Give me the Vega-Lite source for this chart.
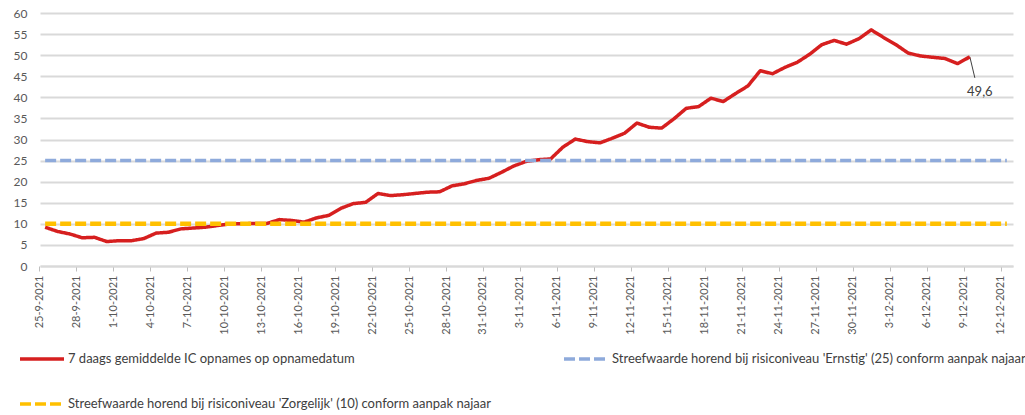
{
  "$schema": "https://vega.github.io/schema/vega-lite/v6.json",
  "width": 973,
  "height": 253,
  "autosize": "none",
  "padding": {"left": 40, "top": 13, "right": 12, "bottom": 149},
  "background": "white",
  "config": {
    "font": "Lato",
    "view": {"stroke": null},
    "axis": {"title": null, "labelColor": "#595959", "labelFont": "Lato"}
  },
  "encoding": {
    "x": {
      "field": "d",
      "type": "temporal",
      "scale": {"domain": [{"year": 2021, "month": 9, "date": 24, "hours": 14}, {"year": 2021, "month": 12, "date": 12, "hours": 12}]},
      "axis": {
        "format": "%-d-%-m-%Y",
        "labelAngle": -90,
        "labelFontSize": 11,
        "labelPadding": 4,
        "grid": false,
        "domainColor": "#d9d9d9",
        "domainWidth": 2,
        "tickColor": "#bfbfbf",
        "tickSize": 5,
        "tickOffset": -6,
        "labelFlush": false,
        "labelOverlap": false,
        "values": [
          {"year": 2021, "month": 9, "date": 25}, {"year": 2021, "month": 9, "date": 28},
          {"year": 2021, "month": 10, "date": 1}, {"year": 2021, "month": 10, "date": 4},
          {"year": 2021, "month": 10, "date": 7}, {"year": 2021, "month": 10, "date": 10},
          {"year": 2021, "month": 10, "date": 13}, {"year": 2021, "month": 10, "date": 16},
          {"year": 2021, "month": 10, "date": 19}, {"year": 2021, "month": 10, "date": 22},
          {"year": 2021, "month": 10, "date": 25}, {"year": 2021, "month": 10, "date": 28},
          {"year": 2021, "month": 10, "date": 31}, {"year": 2021, "month": 11, "date": 3},
          {"year": 2021, "month": 11, "date": 6}, {"year": 2021, "month": 11, "date": 9},
          {"year": 2021, "month": 11, "date": 12}, {"year": 2021, "month": 11, "date": 15},
          {"year": 2021, "month": 11, "date": 18}, {"year": 2021, "month": 11, "date": 21},
          {"year": 2021, "month": 11, "date": 24}, {"year": 2021, "month": 11, "date": 27},
          {"year": 2021, "month": 11, "date": 30}, {"year": 2021, "month": 12, "date": 3},
          {"year": 2021, "month": 12, "date": 6}, {"year": 2021, "month": 12, "date": 9},
          {"year": 2021, "month": 12, "date": 12}
        ]
      }
    },
    "y": {
      "field": "v",
      "type": "quantitative",
      "scale": {"domain": [0, 60], "nice": false},
      "axis": {
        "values": [0, 5, 10, 15, 20, 25, 30, 35, 40, 45, 50, 55, 60],
        "domain": false,
        "ticks": false,
        "gridColor": "#d9d9d9",
        "gridWidth": 2,
        "labelFontSize": 12,
        "labelPadding": 13
      }
    }
  },
  "layer": [
    {
      "data": {"values": [{"d": "2021-12-09", "v": 49.6, "label": "49,6"}], "format": {"parse": {"d": "date:'%Y-%m-%d'"}}},
      "mark": {"type": "text", "fontSize": 13, "color": "#404040", "dx": 10, "dy": 35},
      "encoding": {
        "text": {"field": "label", "type": "nominal"}
      }
    },
    {
      "data": {"values": [{"d": "2021-12-09", "v": 49.6}], "format": {"parse": {"d": "date:'%Y-%m-%d'"}}},
      "mark": {"type": "rule", "color": "#404040", "strokeWidth": 1, "x2Offset": 5, "y2Offset": 21},
      "encoding": {
        "x2": {"field": "d"},
        "y2": {"field": "v"}
      }
    },
    {
      "data": {
        "values": [
          {"d": "2021-09-25", "v": 9.2, "s": "7 daags gemiddelde IC opnames op opnamedatum"},
          {"d": "2021-09-26", "v": 8.2, "s": "7 daags gemiddelde IC opnames op opnamedatum"},
          {"d": "2021-09-27", "v": 7.6, "s": "7 daags gemiddelde IC opnames op opnamedatum"},
          {"d": "2021-09-28", "v": 6.7, "s": "7 daags gemiddelde IC opnames op opnamedatum"},
          {"d": "2021-09-29", "v": 6.8, "s": "7 daags gemiddelde IC opnames op opnamedatum"},
          {"d": "2021-09-30", "v": 5.8, "s": "7 daags gemiddelde IC opnames op opnamedatum"},
          {"d": "2021-10-01", "v": 6.0, "s": "7 daags gemiddelde IC opnames op opnamedatum"},
          {"d": "2021-10-02", "v": 6.0, "s": "7 daags gemiddelde IC opnames op opnamedatum"},
          {"d": "2021-10-03", "v": 6.5, "s": "7 daags gemiddelde IC opnames op opnamedatum"},
          {"d": "2021-10-04", "v": 7.8, "s": "7 daags gemiddelde IC opnames op opnamedatum"},
          {"d": "2021-10-05", "v": 8.0, "s": "7 daags gemiddelde IC opnames op opnamedatum"},
          {"d": "2021-10-06", "v": 8.8, "s": "7 daags gemiddelde IC opnames op opnamedatum"},
          {"d": "2021-10-07", "v": 9.0, "s": "7 daags gemiddelde IC opnames op opnamedatum"},
          {"d": "2021-10-08", "v": 9.2, "s": "7 daags gemiddelde IC opnames op opnamedatum"},
          {"d": "2021-10-09", "v": 9.6, "s": "7 daags gemiddelde IC opnames op opnamedatum"},
          {"d": "2021-10-10", "v": 10.0, "s": "7 daags gemiddelde IC opnames op opnamedatum"},
          {"d": "2021-10-11", "v": 10.0, "s": "7 daags gemiddelde IC opnames op opnamedatum"},
          {"d": "2021-10-12", "v": 10.1, "s": "7 daags gemiddelde IC opnames op opnamedatum"},
          {"d": "2021-10-13", "v": 10.1, "s": "7 daags gemiddelde IC opnames op opnamedatum"},
          {"d": "2021-10-14", "v": 11.0, "s": "7 daags gemiddelde IC opnames op opnamedatum"},
          {"d": "2021-10-15", "v": 10.8, "s": "7 daags gemiddelde IC opnames op opnamedatum"},
          {"d": "2021-10-16", "v": 10.4, "s": "7 daags gemiddelde IC opnames op opnamedatum"},
          {"d": "2021-10-17", "v": 11.4, "s": "7 daags gemiddelde IC opnames op opnamedatum"},
          {"d": "2021-10-18", "v": 12.0, "s": "7 daags gemiddelde IC opnames op opnamedatum"},
          {"d": "2021-10-19", "v": 13.7, "s": "7 daags gemiddelde IC opnames op opnamedatum"},
          {"d": "2021-10-20", "v": 14.8, "s": "7 daags gemiddelde IC opnames op opnamedatum"},
          {"d": "2021-10-21", "v": 15.1, "s": "7 daags gemiddelde IC opnames op opnamedatum"},
          {"d": "2021-10-22", "v": 17.2, "s": "7 daags gemiddelde IC opnames op opnamedatum"},
          {"d": "2021-10-23", "v": 16.7, "s": "7 daags gemiddelde IC opnames op opnamedatum"},
          {"d": "2021-10-24", "v": 16.9, "s": "7 daags gemiddelde IC opnames op opnamedatum"},
          {"d": "2021-10-25", "v": 17.2, "s": "7 daags gemiddelde IC opnames op opnamedatum"},
          {"d": "2021-10-26", "v": 17.5, "s": "7 daags gemiddelde IC opnames op opnamedatum"},
          {"d": "2021-10-27", "v": 17.6, "s": "7 daags gemiddelde IC opnames op opnamedatum"},
          {"d": "2021-10-28", "v": 19.0, "s": "7 daags gemiddelde IC opnames op opnamedatum"},
          {"d": "2021-10-29", "v": 19.5, "s": "7 daags gemiddelde IC opnames op opnamedatum"},
          {"d": "2021-10-30", "v": 20.3, "s": "7 daags gemiddelde IC opnames op opnamedatum"},
          {"d": "2021-10-31", "v": 20.8, "s": "7 daags gemiddelde IC opnames op opnamedatum"},
          {"d": "2021-11-01", "v": 22.2, "s": "7 daags gemiddelde IC opnames op opnamedatum"},
          {"d": "2021-11-02", "v": 23.7, "s": "7 daags gemiddelde IC opnames op opnamedatum"},
          {"d": "2021-11-03", "v": 24.8, "s": "7 daags gemiddelde IC opnames op opnamedatum"},
          {"d": "2021-11-04", "v": 25.2, "s": "7 daags gemiddelde IC opnames op opnamedatum"},
          {"d": "2021-11-05", "v": 25.4, "s": "7 daags gemiddelde IC opnames op opnamedatum"},
          {"d": "2021-11-06", "v": 28.2, "s": "7 daags gemiddelde IC opnames op opnamedatum"},
          {"d": "2021-11-07", "v": 30.1, "s": "7 daags gemiddelde IC opnames op opnamedatum"},
          {"d": "2021-11-08", "v": 29.5, "s": "7 daags gemiddelde IC opnames op opnamedatum"},
          {"d": "2021-11-09", "v": 29.2, "s": "7 daags gemiddelde IC opnames op opnamedatum"},
          {"d": "2021-11-10", "v": 30.3, "s": "7 daags gemiddelde IC opnames op opnamedatum"},
          {"d": "2021-11-11", "v": 31.5, "s": "7 daags gemiddelde IC opnames op opnamedatum"},
          {"d": "2021-11-12", "v": 33.9, "s": "7 daags gemiddelde IC opnames op opnamedatum"},
          {"d": "2021-11-13", "v": 32.9, "s": "7 daags gemiddelde IC opnames op opnamedatum"},
          {"d": "2021-11-14", "v": 32.7, "s": "7 daags gemiddelde IC opnames op opnamedatum"},
          {"d": "2021-11-15", "v": 34.9, "s": "7 daags gemiddelde IC opnames op opnamedatum"},
          {"d": "2021-11-16", "v": 37.4, "s": "7 daags gemiddelde IC opnames op opnamedatum"},
          {"d": "2021-11-17", "v": 37.8, "s": "7 daags gemiddelde IC opnames op opnamedatum"},
          {"d": "2021-11-18", "v": 39.8, "s": "7 daags gemiddelde IC opnames op opnamedatum"},
          {"d": "2021-11-19", "v": 39.0, "s": "7 daags gemiddelde IC opnames op opnamedatum"},
          {"d": "2021-11-20", "v": 40.9, "s": "7 daags gemiddelde IC opnames op opnamedatum"},
          {"d": "2021-11-21", "v": 42.7, "s": "7 daags gemiddelde IC opnames op opnamedatum"},
          {"d": "2021-11-22", "v": 46.3, "s": "7 daags gemiddelde IC opnames op opnamedatum"},
          {"d": "2021-11-23", "v": 45.6, "s": "7 daags gemiddelde IC opnames op opnamedatum"},
          {"d": "2021-11-24", "v": 47.1, "s": "7 daags gemiddelde IC opnames op opnamedatum"},
          {"d": "2021-11-25", "v": 48.3, "s": "7 daags gemiddelde IC opnames op opnamedatum"},
          {"d": "2021-11-26", "v": 50.2, "s": "7 daags gemiddelde IC opnames op opnamedatum"},
          {"d": "2021-11-27", "v": 52.5, "s": "7 daags gemiddelde IC opnames op opnamedatum"},
          {"d": "2021-11-28", "v": 53.5, "s": "7 daags gemiddelde IC opnames op opnamedatum"},
          {"d": "2021-11-29", "v": 52.6, "s": "7 daags gemiddelde IC opnames op opnamedatum"},
          {"d": "2021-11-30", "v": 53.9, "s": "7 daags gemiddelde IC opnames op opnamedatum"},
          {"d": "2021-12-01", "v": 56.0, "s": "7 daags gemiddelde IC opnames op opnamedatum"},
          {"d": "2021-12-02", "v": 54.2, "s": "7 daags gemiddelde IC opnames op opnamedatum"},
          {"d": "2021-12-03", "v": 52.5, "s": "7 daags gemiddelde IC opnames op opnamedatum"},
          {"d": "2021-12-04", "v": 50.5, "s": "7 daags gemiddelde IC opnames op opnamedatum"},
          {"d": "2021-12-05", "v": 49.8, "s": "7 daags gemiddelde IC opnames op opnamedatum"},
          {"d": "2021-12-06", "v": 49.5, "s": "7 daags gemiddelde IC opnames op opnamedatum"},
          {"d": "2021-12-07", "v": 49.2, "s": "7 daags gemiddelde IC opnames op opnamedatum"},
          {"d": "2021-12-08", "v": 48.0, "s": "7 daags gemiddelde IC opnames op opnamedatum"},
          {"d": "2021-12-09", "v": 49.6, "s": "7 daags gemiddelde IC opnames op opnamedatum"}
        ],
        "format": {"parse": {"d": "date:'%Y-%m-%d'"}}
      },
      "mark": {"type": "line", "strokeWidth": 3.5, "strokeJoin": "round"},
      "encoding": {
        "color": {
          "field": "s",
          "type": "nominal",
          "scale": {
            "domain": ["7 daags gemiddelde IC opnames op opnamedatum", "Streefwaarde horend bij risiconiveau 'Ernstig' (25) conform aanpak najaar", "Streefwaarde horend bij risiconiveau 'Zorgelijk' (10) conform aanpak najaar"],
            "range": ["#d61f1f", "#8eaadb", "#ffc000"]
          },
          "legend": {
            "title": null,
            "orient": "none",
            "legendX": -22,
            "legendY": 322,
            "direction": "horizontal",
            "columns": 2,
            "columnPadding": 66,
            "rowPadding": 14,
            "symbolType": "stroke",
            "symbolSize": 1936,
            "symbolStrokeWidth": 3.5,
            "labelFontSize": 13,
            "labelColor": "#404040",
            "labelOffset": 2,
            "labelLimit": 700
          }
        },
        "strokeDash": {
          "field": "s",
          "type": "nominal",
          "scale": {
            "domain": ["7 daags gemiddelde IC opnames op opnamedatum", "Streefwaarde horend bij risiconiveau 'Ernstig' (25) conform aanpak najaar", "Streefwaarde horend bij risiconiveau 'Zorgelijk' (10) conform aanpak najaar"],
            "range": [[1, 0], [11, 4], [11, 4]]
          },
          "legend": {
            "title": null,
            "orient": "none",
            "legendX": -22,
            "legendY": 322,
            "direction": "horizontal",
            "columns": 2,
            "columnPadding": 66,
            "rowPadding": 14,
            "symbolType": "stroke",
            "symbolSize": 1936,
            "symbolStrokeWidth": 3.5,
            "labelFontSize": 13,
            "labelColor": "#404040",
            "labelOffset": 2,
            "labelLimit": 700
          }
        }
      }
    },
    {
      "data": {
        "values": [
          {"d": "2021-09-25", "v": 25, "s": "Streefwaarde horend bij risiconiveau 'Ernstig' (25) conform aanpak najaar"},
          {"d": "2021-12-12", "v": 25, "s": "Streefwaarde horend bij risiconiveau 'Ernstig' (25) conform aanpak najaar"}
        ],
        "format": {"parse": {"d": "date:'%Y-%m-%d'"}}
      },
      "mark": {"type": "line", "strokeWidth": 3.5},
      "encoding": {
        "color": {"field": "s", "type": "nominal"},
        "strokeDash": {"field": "s", "type": "nominal"}
      }
    },
    {
      "data": {
        "values": [
          {"d": "2021-09-25", "v": 10, "s": "Streefwaarde horend bij risiconiveau 'Zorgelijk' (10) conform aanpak najaar"},
          {"d": "2021-12-12", "v": 10, "s": "Streefwaarde horend bij risiconiveau 'Zorgelijk' (10) conform aanpak najaar"}
        ],
        "format": {"parse": {"d": "date:'%Y-%m-%d'"}}
      },
      "mark": {"type": "line", "strokeWidth": 4.5},
      "encoding": {
        "color": {"field": "s", "type": "nominal"},
        "strokeDash": {"field": "s", "type": "nominal"}
      }
    }
  ]
}
